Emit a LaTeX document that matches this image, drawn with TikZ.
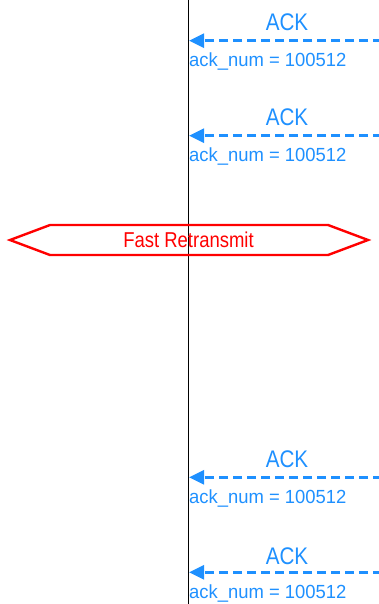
\documentclass[tikz,border=0pt]{standalone}
\usepackage{fontspec}
\usetikzlibrary{arrows.meta}
\newfontfamily\labfont[FakeStretch=0.86]{Liberation Sans}
\newfontfamily\numfont[FakeStretch=0.97]{Liberation Sans}
\definecolor{ackblue}{RGB}{30,144,255}
\definecolor{frred}{RGB}{255,0,0}
\tikzset{
  ackline/.style={draw=ackblue, line width=2.8pt, dash pattern=on 9pt off 5pt, -{Triangle[length=15pt,width=14pt]}},
  acktitle/.style={text=ackblue, inner sep=0pt, anchor=base, font=\labfont\fontsize{24}{24}\selectfont},
  acknum/.style={text=ackblue, inner sep=0pt, anchor=base west, font=\numfont\fontsize{19}{19}\selectfont},
  lifeline/.style={draw=black, line width=1pt},
  frbox/.style={draw=frred, line width=2.4pt, line join=miter},
  frtext/.style={text=frred, inner sep=0pt, anchor=base, font=\labfont\fontsize{21.5}{21.5}\selectfont}
}
\begin{document}
\begin{tikzpicture}[x=1pt,y=-1pt]
\useasboundingbox (0,0) rectangle (379,604);
\coordinate (lt) at (188,0);
\coordinate (lb) at (188,604);
\draw[lifeline] (lt) -- (lb);
% hexagon
\coordinate (h1) at (10,240);
\coordinate (h2) at (50,225);
\coordinate (h3) at (328,225);
\coordinate (h4) at (368,240);
\coordinate (h5) at (328,255);
\coordinate (h6) at (50,255);
\draw[frbox] (h1) -- (h2) -- (h3) -- (h4) -- (h5) -- (h6) -- cycle;
\node[frtext] (fr) at (188.5,247) {Fast Retransmit};
% ACKs
\foreach \i/\y/\t in {1/40.7/30.7, 2/135.7/125.7, 3/477.3/467.3, 4/572.3/564.3} {
  \coordinate (r\i) at (382,\y);
  \coordinate (l\i) at (189,\y);
  \draw[ackline] (r\i) -- (l\i);
  \node[acktitle] (a\i) at (287,\t) {ACK};
  \node[acknum] (n\i) at (189,\y+26) {ack\_num = 100512};
}
\end{tikzpicture}
\end{document}
